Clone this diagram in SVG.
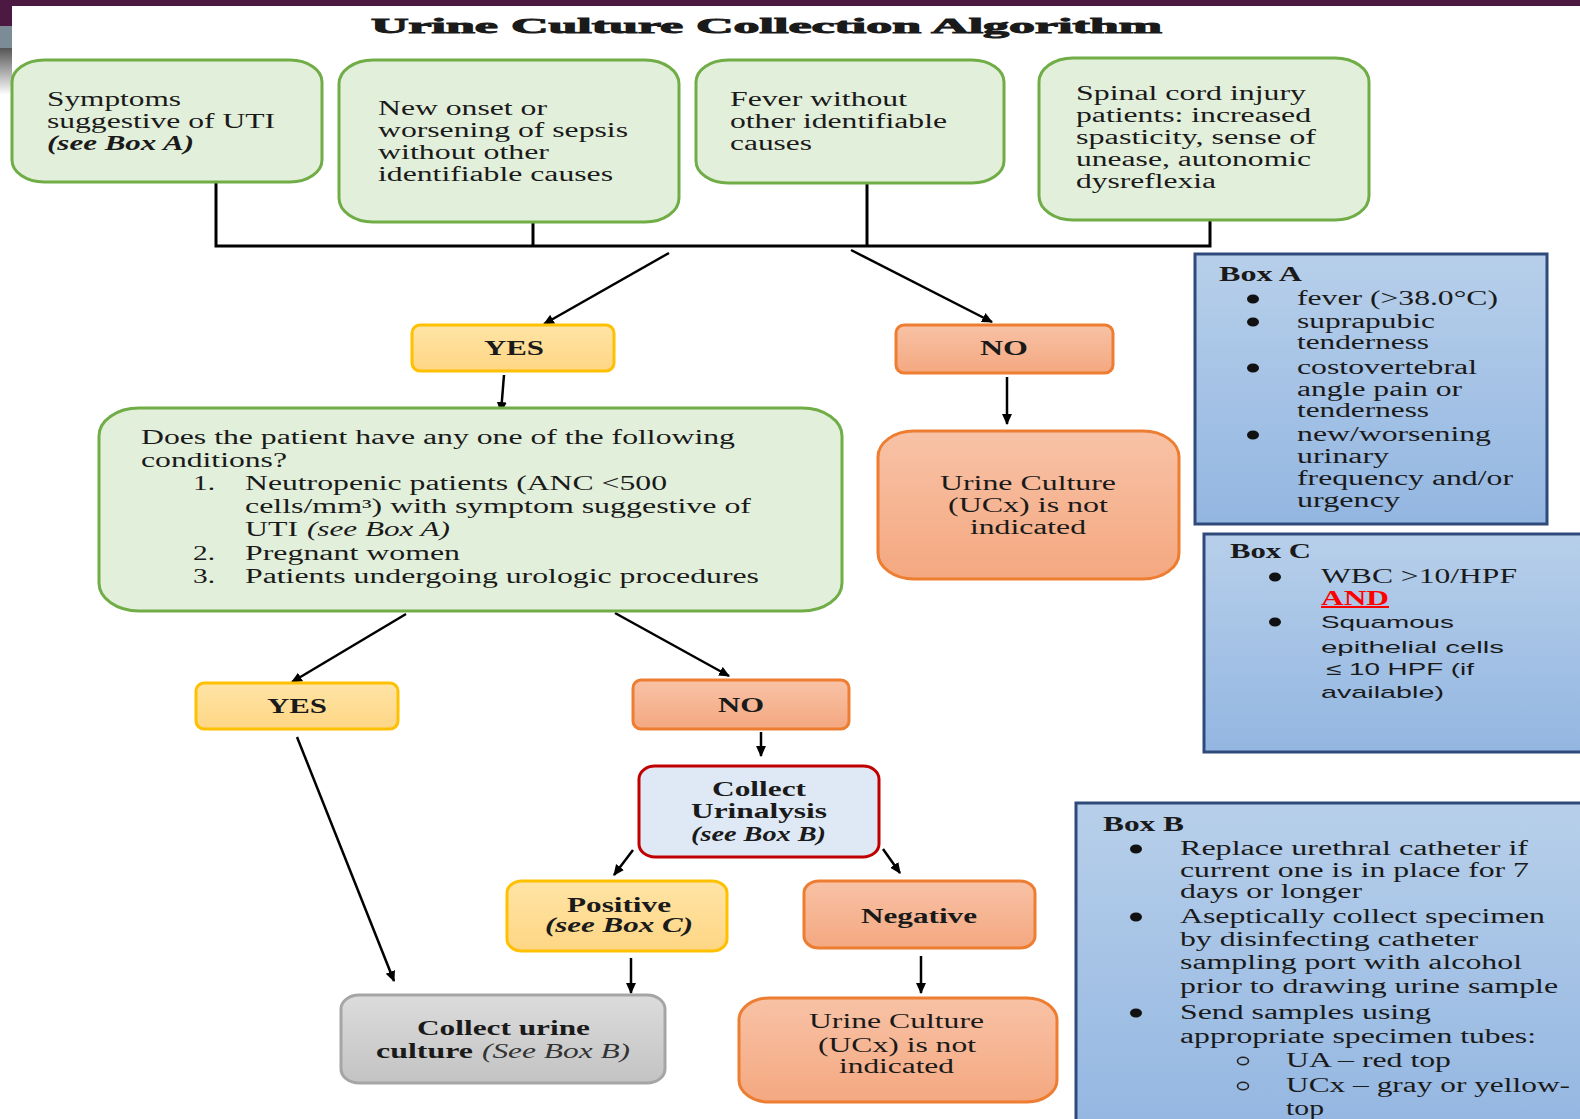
<svg xmlns="http://www.w3.org/2000/svg" width="1580" height="1119" viewBox="0 0 1580 1119">
<style>
.t{font-family:"Liberation Serif","Times New Roman",serif;font-size:20px;fill:#1a1a1a}
.b{font-weight:bold}
.i{font-style:italic}
.s{font-family:"Liberation Sans",Arial,sans-serif;font-size:17px;fill:#1a1a1a}
.green{fill:#e2efda;stroke:#70ad47;stroke-width:3}
.yel{fill:url(#gy);stroke:#ffc000;stroke-width:3}
.sal{fill:url(#gs);stroke:#ed7d31;stroke-width:3}
.gry{fill:url(#gg);stroke:#a5a5a5;stroke-width:3}
.blu{fill:url(#gb);stroke:#2f4a7a;stroke-width:3}
.ln{stroke:#000;stroke-width:3;fill:none}
.ar{stroke:#000;stroke-width:2.5;fill:none;marker-end:url(#ah)}
.dot{fill:#111}
.ring{fill:none;stroke:#222;stroke-width:1.6}
</style>
<defs>
<linearGradient id="gy" x1="0" y1="0" x2="0" y2="1"><stop offset="0" stop-color="#ffe4a6"/><stop offset="1" stop-color="#fed684"/></linearGradient>
<linearGradient id="gs" x1="0" y1="0" x2="0" y2="1"><stop offset="0" stop-color="#f8c2a6"/><stop offset="1" stop-color="#f4a880"/></linearGradient>
<linearGradient id="gg" x1="0" y1="0" x2="0" y2="1"><stop offset="0" stop-color="#dcdcdc"/><stop offset="1" stop-color="#c3c3c3"/></linearGradient>
<linearGradient id="gb" x1="0" y1="0" x2="0" y2="1"><stop offset="0" stop-color="#b7cfea"/><stop offset="1" stop-color="#93b6e1"/></linearGradient>
<linearGradient id="gl" x1="0" y1="0" x2="0" y2="1"><stop offset="0" stop-color="#555"/><stop offset="1" stop-color="#fff"/></linearGradient>
<marker id="ah" viewBox="0 0 10 10" refX="9" refY="5" markerWidth="11" markerHeight="11" markerUnits="userSpaceOnUse" orient="auto"><path d="M0,0.5 L10,5 L0,9.5 z" fill="#000"/></marker>
</defs>
<rect width="1580" height="1119" fill="#fff"/>
<g id="decor">
<rect x="0" y="0" width="1580" height="6" fill="#4b1941"/>
<rect x="0" y="0" width="12" height="26" fill="#4b1941"/>
<rect x="0" y="26" width="12" height="22" fill="#7b8c96"/>
<rect x="0" y="48" width="12" height="47" fill="url(#gl)"/>
</g>
<g id="title"><text class="t b" x="371" y="33" font-size="31" textLength="791" lengthAdjust="spacingAndGlyphs" stroke="#1a1a1a" stroke-width="0.9">Urine Culture Collection Algorithm</text></g>

<g id="connectors">
<polyline class="ln" points="216,182 216,246 1210,246 1210,220"/>
<line class="ln" x1="533" y1="222" x2="533" y2="246"/>
<line class="ln" x1="867" y1="183" x2="867" y2="246"/>
<line class="ar" x1="669" y1="253" x2="544" y2="324"/>
<line class="ar" x1="851" y1="250" x2="992" y2="322"/>
<line class="ar" x1="504" y1="375" x2="501" y2="412"/>
<line class="ar" x1="1007" y1="377" x2="1007" y2="424"/>
<line class="ar" x1="406" y1="614" x2="292" y2="682"/>
<line class="ar" x1="615" y1="613" x2="729" y2="676"/>
<line class="ar" x1="761" y1="732" x2="761" y2="756"/>
<line class="ar" x1="633" y1="850" x2="614" y2="875"/>
<line class="ar" x1="883" y1="849" x2="900" y2="873"/>
<line class="ar" x1="631" y1="958" x2="631" y2="993"/>
<line class="ar" x1="921" y1="956" x2="921" y2="993"/>
<line class="ar" x1="297" y1="737" x2="394" y2="981"/>
</g>

<g id="symptoms">
<rect class="green" x="12" y="60" width="310" height="122" rx="32" ry="22"/>
<text class="t" x="47" y="106" textLength="134" lengthAdjust="spacingAndGlyphs">Symptoms</text>
<text class="t" x="47" y="128" textLength="228" lengthAdjust="spacingAndGlyphs">suggestive of UTI</text>
<text class="t b i" x="47" y="150" textLength="147" lengthAdjust="spacingAndGlyphs">(see Box A)</text>
</g>
<g id="sepsis">
<rect class="green" x="339" y="60" width="340" height="162" rx="34" ry="24"/>
<text class="t" x="378" y="115" textLength="169" lengthAdjust="spacingAndGlyphs">New onset or</text>
<text class="t" x="378" y="137" textLength="250" lengthAdjust="spacingAndGlyphs">worsening of sepsis</text>
<text class="t" x="378" y="159" textLength="171" lengthAdjust="spacingAndGlyphs">without other</text>
<text class="t" x="378" y="181" textLength="235" lengthAdjust="spacingAndGlyphs">identifiable causes</text>
</g>
<g id="fever">
<rect class="green" x="696" y="60" width="308" height="123" rx="32" ry="22"/>
<text class="t" x="730" y="106" textLength="177" lengthAdjust="spacingAndGlyphs">Fever without</text>
<text class="t" x="730" y="128" textLength="217" lengthAdjust="spacingAndGlyphs">other identifiable</text>
<text class="t" x="730" y="150" textLength="82" lengthAdjust="spacingAndGlyphs">causes</text>
</g>
<g id="spinal">
<rect class="green" x="1039" y="58" width="330" height="162" rx="34" ry="24"/>
<text class="t" x="1076" y="100" textLength="230" lengthAdjust="spacingAndGlyphs">Spinal cord injury</text>
<text class="t" x="1076" y="122" textLength="235" lengthAdjust="spacingAndGlyphs">patients: increased</text>
<text class="t" x="1076" y="144" textLength="240" lengthAdjust="spacingAndGlyphs">spasticity, sense of</text>
<text class="t" x="1076" y="166" textLength="235" lengthAdjust="spacingAndGlyphs">unease, autonomic</text>
<text class="t" x="1076" y="188" textLength="140" lengthAdjust="spacingAndGlyphs">dysreflexia</text>
</g>

<g id="yes1">
<rect class="yel" x="412" y="325" width="202" height="46" rx="8" ry="8"/>
<text class="t b" x="484" y="355" textLength="60" lengthAdjust="spacingAndGlyphs">YES</text>
</g>
<g id="no1">
<rect class="sal" x="896" y="325" width="217" height="48" rx="8" ry="8"/>
<text class="t b" x="980" y="355" textLength="48" lengthAdjust="spacingAndGlyphs">NO</text>
</g>
<g id="question">
<rect class="green" x="99" y="408" width="743" height="203" rx="40" ry="28"/>
<text class="t" x="141" y="444" textLength="594" lengthAdjust="spacingAndGlyphs">Does the patient have any one of the following</text>
<text class="t" x="141" y="467" textLength="146" lengthAdjust="spacingAndGlyphs">conditions?</text>
<text class="t" x="193" y="490" textLength="22" lengthAdjust="spacingAndGlyphs">1.</text>
<text class="t" x="245" y="490" textLength="422" lengthAdjust="spacingAndGlyphs">Neutropenic patients (ANC &lt;500</text>
<text class="t" x="245" y="513" textLength="506" lengthAdjust="spacingAndGlyphs">cells/mm³) with symptom suggestive of</text>
<text class="t" x="245" y="536" textLength="53" lengthAdjust="spacingAndGlyphs">UTI</text>
<text class="t i" x="307" y="536" textLength="143" lengthAdjust="spacingAndGlyphs">(see Box A)</text>
<text class="t" x="193" y="560" textLength="22" lengthAdjust="spacingAndGlyphs">2.</text>
<text class="t" x="245" y="560" textLength="215" lengthAdjust="spacingAndGlyphs">Pregnant women</text>
<text class="t" x="193" y="583" textLength="22" lengthAdjust="spacingAndGlyphs">3.</text>
<text class="t" x="245" y="583" textLength="514" lengthAdjust="spacingAndGlyphs">Patients undergoing urologic procedures</text>
</g>
<g id="notindicated1">
<rect class="sal" x="878" y="431" width="301" height="148" rx="36" ry="26"/>
<text class="t" x="940" y="490" textLength="176" lengthAdjust="spacingAndGlyphs">Urine Culture</text>
<text class="t" x="948" y="512" textLength="160" lengthAdjust="spacingAndGlyphs">(UCx) is not</text>
<text class="t" x="970" y="534" textLength="116" lengthAdjust="spacingAndGlyphs">indicated</text>
</g>

<g id="boxA">
<rect class="blu" x="1195" y="254" width="352" height="270"/>
<text class="t b" x="1219" y="281" textLength="83" lengthAdjust="spacingAndGlyphs">Box A</text>
<ellipse class="dot" cx="1253" cy="299" rx="6" ry="4.5"/>
<text class="t" x="1297" y="305" textLength="201" lengthAdjust="spacingAndGlyphs">fever (&gt;38.0°C)</text>
<ellipse class="dot" cx="1253" cy="322" rx="6" ry="4.5"/>
<text class="t" x="1297" y="328" textLength="138" lengthAdjust="spacingAndGlyphs">suprapubic</text>
<text class="t" x="1297" y="349" textLength="132" lengthAdjust="spacingAndGlyphs">tenderness</text>
<ellipse class="dot" cx="1253" cy="368" rx="6" ry="4.5"/>
<text class="t" x="1297" y="374" textLength="180" lengthAdjust="spacingAndGlyphs">costovertebral</text>
<text class="t" x="1297" y="396" textLength="165" lengthAdjust="spacingAndGlyphs">angle pain or</text>
<text class="t" x="1297" y="417" textLength="132" lengthAdjust="spacingAndGlyphs">tenderness</text>
<ellipse class="dot" cx="1253" cy="435" rx="6" ry="4.5"/>
<text class="t" x="1297" y="441" textLength="194" lengthAdjust="spacingAndGlyphs">new/worsening</text>
<text class="t" x="1297" y="463" textLength="92" lengthAdjust="spacingAndGlyphs">urinary</text>
<text class="t" x="1297" y="485" textLength="216" lengthAdjust="spacingAndGlyphs">frequency and/or</text>
<text class="t" x="1297" y="507" textLength="103" lengthAdjust="spacingAndGlyphs">urgency</text>
</g>
<g id="boxC">
<rect class="blu" x="1204" y="534" width="390" height="218"/>
<text class="t b" x="1230" y="558" textLength="81" lengthAdjust="spacingAndGlyphs">Box C</text>
<ellipse class="dot" cx="1275" cy="577" rx="6" ry="4.5"/>
<text class="t" x="1321" y="583" textLength="196" lengthAdjust="spacingAndGlyphs">WBC &gt;10/HPF</text>
<text class="t b" x="1321" y="605" textLength="68" lengthAdjust="spacingAndGlyphs" style="fill:#ff0000;text-decoration:underline">AND</text>
<ellipse class="dot" cx="1275" cy="622" rx="6" ry="4.5"/>
<text class="s" x="1321" y="628" textLength="133" lengthAdjust="spacingAndGlyphs">Squamous</text>
<text class="s" x="1321" y="653" textLength="183" lengthAdjust="spacingAndGlyphs">epithelial cells</text>
<text class="s" x="1326" y="675" textLength="148" lengthAdjust="spacingAndGlyphs">≤ 10 HPF (if</text>
<text class="s" x="1321" y="698" textLength="123" lengthAdjust="spacingAndGlyphs">available)</text>
</g>
<g id="boxB">
<rect class="blu" x="1076" y="803" width="520" height="330"/>
<text class="t b" x="1103" y="831" textLength="81" lengthAdjust="spacingAndGlyphs">Box B</text>
<ellipse class="dot" cx="1136" cy="849" rx="6" ry="4.5"/>
<text class="t" x="1180" y="855" textLength="348" lengthAdjust="spacingAndGlyphs">Replace urethral catheter if</text>
<text class="t" x="1180" y="877" textLength="349" lengthAdjust="spacingAndGlyphs">current one is in place for 7</text>
<text class="t" x="1180" y="898" textLength="182" lengthAdjust="spacingAndGlyphs">days or longer</text>
<ellipse class="dot" cx="1136" cy="917" rx="6" ry="4.5"/>
<text class="t" x="1180" y="923" textLength="365" lengthAdjust="spacingAndGlyphs">Aseptically collect specimen</text>
<text class="t" x="1180" y="946" textLength="298" lengthAdjust="spacingAndGlyphs">by disinfecting catheter</text>
<text class="t" x="1180" y="969" textLength="342" lengthAdjust="spacingAndGlyphs">sampling port with alcohol</text>
<text class="t" x="1180" y="993" textLength="378" lengthAdjust="spacingAndGlyphs">prior to drawing urine sample</text>
<ellipse class="dot" cx="1136" cy="1013" rx="6" ry="4.5"/>
<text class="t" x="1180" y="1019" textLength="251" lengthAdjust="spacingAndGlyphs">Send samples using</text>
<text class="t" x="1180" y="1043" textLength="356" lengthAdjust="spacingAndGlyphs">appropriate specimen tubes:</text>
<ellipse class="ring" cx="1243" cy="1061" rx="5.5" ry="3.8"/>
<text class="t" x="1286" y="1067" textLength="165" lengthAdjust="spacingAndGlyphs">UA – red top</text>
<ellipse class="ring" cx="1243" cy="1086" rx="5.5" ry="3.8"/>
<text class="t" x="1286" y="1092" textLength="284" lengthAdjust="spacingAndGlyphs">UCx – gray or yellow-</text>
<text class="t" x="1286" y="1115" textLength="38" lengthAdjust="spacingAndGlyphs">top</text>
</g>

<g id="yes2">
<rect class="yel" x="196" y="683" width="202" height="46" rx="8" ry="8"/>
<text class="t b" x="267" y="713" textLength="60" lengthAdjust="spacingAndGlyphs">YES</text>
</g>
<g id="no2">
<rect class="sal" x="633" y="680" width="216" height="49" rx="8" ry="8"/>
<text class="t b" x="718" y="712" textLength="46" lengthAdjust="spacingAndGlyphs">NO</text>
</g>
<g id="urinalysis">
<rect x="639" y="766" width="240" height="91" rx="16" ry="13" fill="#dfe9f5" stroke="#c00000" stroke-width="3"/>
<text class="t b" x="712" y="796" textLength="94" lengthAdjust="spacingAndGlyphs">Collect</text>
<text class="t b" x="691" y="818" textLength="136" lengthAdjust="spacingAndGlyphs">Urinalysis</text>
<text class="t b i" x="691" y="841" textLength="135" lengthAdjust="spacingAndGlyphs">(see Box B)</text>
</g>
<g id="positive">
<rect class="yel" x="507" y="881" width="220" height="70" rx="15" ry="12"/>
<text class="t b" x="567" y="912" textLength="104" lengthAdjust="spacingAndGlyphs">Positive</text>
<text class="t b i" x="545" y="932" textLength="148" lengthAdjust="spacingAndGlyphs">(see Box C)</text>
</g>
<g id="negative">
<rect class="sal" x="804" y="881" width="231" height="67" rx="15" ry="12"/>
<text class="t b" x="861" y="923" textLength="116" lengthAdjust="spacingAndGlyphs">Negative</text>
</g>
<g id="collecturine">
<rect class="gry" x="341" y="995" width="324" height="88" rx="18" ry="14"/>
<text class="t b" x="417" y="1035" textLength="173" lengthAdjust="spacingAndGlyphs">Collect urine</text>
<text class="t b" x="376" y="1058" textLength="97" lengthAdjust="spacingAndGlyphs">culture</text>
<text class="t i" x="482" y="1058" textLength="148" lengthAdjust="spacingAndGlyphs" style="fill:#333">(See Box B)</text>
</g>
<g id="notindicated2">
<rect class="sal" x="739" y="998" width="318" height="104" rx="30" ry="22"/>
<text class="t" x="809" y="1028" textLength="175" lengthAdjust="spacingAndGlyphs">Urine Culture</text>
<text class="t" x="818" y="1052" textLength="158" lengthAdjust="spacingAndGlyphs">(UCx) is not</text>
<text class="t" x="839" y="1073" textLength="115" lengthAdjust="spacingAndGlyphs">indicated</text>
</g>
</svg>
